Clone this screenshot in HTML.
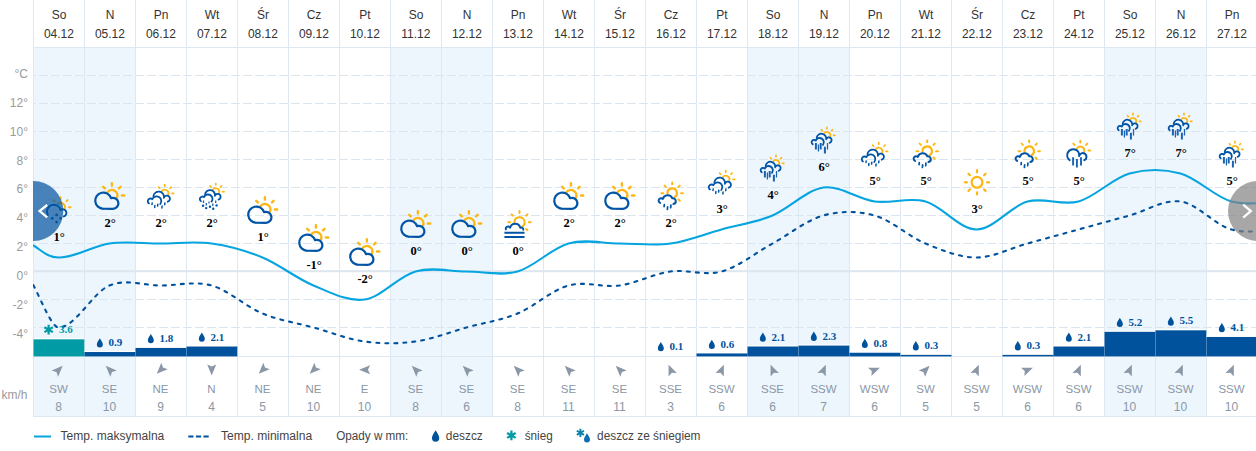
<!DOCTYPE html><html><head><meta charset="utf-8"><title>Pogoda</title>
<style>html,body{margin:0;padding:0;background:#fff;}svg{display:block;font-family:"Liberation Sans",sans-serif;}.h{font-size:12px;fill:#333333;text-anchor:middle;}.a{font-size:12px;fill:#9a9a9a;text-anchor:end;}.w{font-size:12px;fill:#8a97a6;text-anchor:middle;}.t{font-family:"Liberation Serif",serif;font-weight:bold;font-size:12.5px;fill:#000;text-anchor:middle;}.p{font-family:"Liberation Serif",serif;font-weight:bold;font-size:11px;}.l{font-size:12px;fill:#444;}</style></head><body>
<svg width="1256" height="451" viewBox="0 0 1256 451">
<defs><clipPath id="cp"><rect x="33" y="0" width="1223" height="451"/></clipPath>
<path id="ar" d="M0 -5.6 L4.5 5.4 L0 3.2 L-4.5 5.4 Z"/>
<path id="drop" d="M0 -4.6 C1.3 -2.2 3 -0.2 3 1.7 A3 3 0 0 1 -3 1.7 C-3 -0.2 -1.3 -2.2 0 -4.6 Z"/>
<path id="flake" d="M0 -4.6V4.6M-4 -2.3L4 2.3M-4 2.3L4 -2.3" stroke-width="2.1" fill="none" stroke-linecap="butt"/>
</defs>
<rect width="1256" height="451" fill="#fff"/>
<rect x="33" y="48" width="51" height="368" fill="#edf5fd"/>
<rect x="84" y="48" width="51" height="368" fill="#edf5fd"/>
<rect x="390" y="48" width="51" height="368" fill="#edf5fd"/>
<rect x="441" y="48" width="51" height="368" fill="#edf5fd"/>
<rect x="747" y="48" width="51" height="368" fill="#edf5fd"/>
<rect x="798" y="48" width="51" height="368" fill="#edf5fd"/>
<rect x="1104" y="48" width="51" height="368" fill="#edf5fd"/>
<rect x="1155" y="48" width="51" height="368" fill="#edf5fd"/>
<path d="M33 75.5 H1256" stroke="#dbe5ef" stroke-width="1" stroke-dasharray="9 3" stroke-dashoffset="6" fill="none"/><path d="M33 103.5 H1256" stroke="#dbe5ef" stroke-width="1" stroke-dasharray="9 3" stroke-dashoffset="6" fill="none"/><path d="M33 131.5 H1256" stroke="#dbe5ef" stroke-width="1" stroke-dasharray="9 3" stroke-dashoffset="6" fill="none"/><path d="M33 159.5 H1256" stroke="#dbe5ef" stroke-width="1" stroke-dasharray="9 3" stroke-dashoffset="6" fill="none"/><path d="M33 187.5 H1256" stroke="#dbe5ef" stroke-width="1" stroke-dasharray="9 3" stroke-dashoffset="6" fill="none"/><path d="M33 215.5 H1256" stroke="#dbe5ef" stroke-width="1" stroke-dasharray="9 3" stroke-dashoffset="6" fill="none"/><path d="M33 243.5 H1256" stroke="#dbe5ef" stroke-width="1" stroke-dasharray="9 3" stroke-dashoffset="6" fill="none"/><rect x="33" y="270.2" width="1223" height="2" fill="#dde6ef"/><path d="M33 299.5 H1256" stroke="#dbe5ef" stroke-width="1" stroke-dasharray="9 3" stroke-dashoffset="6" fill="none"/><path d="M33 327.5 H1256" stroke="#dbe5ef" stroke-width="1" stroke-dasharray="9 3" stroke-dashoffset="6" fill="none"/>
<path d="M33.5 0V417M84.5 0V417M135.5 0V417M186.5 0V417M237.5 0V417M288.5 0V417M339.5 0V417M390.5 0V417M441.5 0V417M492.5 0V417M543.5 0V417M594.5 0V417M645.5 0V417M696.5 0V417M747.5 0V417M798.5 0V417M849.5 0V417M900.5 0V417M951.5 0V417M1002.5 0V417M1053.5 0V417M1104.5 0V417M1155.5 0V417M1206.5 0V417M1257.5 0V417" stroke="#dee8f2" stroke-width="1" fill="none" shape-rendering="crispEdges"/>
<path d="M33 47.5H1256M33 356.5H1256M33 416.5H1256" stroke="#dee8f2" stroke-width="1" fill="none" shape-rendering="crispEdges"/>
<text class="h" x="59" y="18.9">So</text><text class="h" x="58.9" y="38">04.12</text>
<text class="h" x="110" y="18.9">N</text><text class="h" x="109.9" y="38">05.12</text>
<text class="h" x="161" y="18.9">Pn</text><text class="h" x="160.9" y="38">06.12</text>
<text class="h" x="212" y="18.9">Wt</text><text class="h" x="211.9" y="38">07.12</text>
<text class="h" x="263" y="18.9">Śr</text><text class="h" x="262.9" y="38">08.12</text>
<text class="h" x="314" y="18.9">Cz</text><text class="h" x="313.9" y="38">09.12</text>
<text class="h" x="365" y="18.9">Pt</text><text class="h" x="364.9" y="38">10.12</text>
<text class="h" x="416" y="18.9">So</text><text class="h" x="415.9" y="38">11.12</text>
<text class="h" x="467" y="18.9">N</text><text class="h" x="466.9" y="38">12.12</text>
<text class="h" x="518" y="18.9">Pn</text><text class="h" x="517.9" y="38">13.12</text>
<text class="h" x="569" y="18.9">Wt</text><text class="h" x="568.9" y="38">14.12</text>
<text class="h" x="620" y="18.9">Śr</text><text class="h" x="619.9" y="38">15.12</text>
<text class="h" x="671" y="18.9">Cz</text><text class="h" x="670.9" y="38">16.12</text>
<text class="h" x="722" y="18.9">Pt</text><text class="h" x="721.9" y="38">17.12</text>
<text class="h" x="773" y="18.9">So</text><text class="h" x="772.9" y="38">18.12</text>
<text class="h" x="824" y="18.9">N</text><text class="h" x="823.9" y="38">19.12</text>
<text class="h" x="875" y="18.9">Pn</text><text class="h" x="874.9" y="38">20.12</text>
<text class="h" x="926" y="18.9">Wt</text><text class="h" x="925.9" y="38">21.12</text>
<text class="h" x="977" y="18.9">Śr</text><text class="h" x="976.9" y="38">22.12</text>
<text class="h" x="1028" y="18.9">Cz</text><text class="h" x="1027.9" y="38">23.12</text>
<text class="h" x="1079" y="18.9">Pt</text><text class="h" x="1078.9" y="38">24.12</text>
<text class="h" x="1130" y="18.9">So</text><text class="h" x="1129.9" y="38">25.12</text>
<text class="h" x="1181" y="18.9">N</text><text class="h" x="1180.9" y="38">26.12</text>
<text class="h" x="1232" y="18.9">Pn</text><text class="h" x="1231.9" y="38">27.12</text>
<text class="a" x="28" y="78.1">°C</text>
<text class="a" x="28" y="106.9">12°</text>
<text class="a" x="28" y="135.7">10°</text>
<text class="a" x="28" y="164.5">8°</text>
<text class="a" x="28" y="193.3">6°</text>
<text class="a" x="28" y="222.1">4°</text>
<text class="a" x="28" y="250.9">2°</text>
<text class="a" x="28" y="279.7">0°</text>
<text class="a" x="28" y="308.5">-2°</text>
<text class="a" x="28" y="338.3">-4°</text>
<text class="a" x="27.5" y="398.5">km/h</text>
<rect x="33.5" y="339.2" width="51" height="17.2" fill="#009ba5"/>
<path d="M33.5 338.7H84.5" stroke="#fff" stroke-width="1"/>
<path d="M84.5 339.2V356" stroke="#fff" stroke-width="1" stroke-opacity="0.3"/>
<rect x="84.5" y="352.02" width="51" height="4.38" fill="#00529c"/>
<path d="M84.5 351.52H135.5" stroke="#fff" stroke-width="1"/>
<path d="M135.5 352.02V356" stroke="#fff" stroke-width="1" stroke-opacity="0.3"/>
<rect x="135.5" y="347.75" width="51" height="8.65" fill="#00529c"/>
<path d="M135.5 347.25H186.5" stroke="#fff" stroke-width="1"/>
<path d="M186.5 347.75V356" stroke="#fff" stroke-width="1" stroke-opacity="0.3"/>
<rect x="186.5" y="346.32" width="51" height="10.07" fill="#00529c"/>
<path d="M186.5 345.82H237.5" stroke="#fff" stroke-width="1"/>
<path d="M237.5 346.32V356" stroke="#fff" stroke-width="1" stroke-opacity="0.3"/>
<rect x="696.5" y="353.45" width="51" height="2.95" fill="#00529c"/>
<rect x="747.5" y="346.32" width="51" height="10.07" fill="#00529c"/>
<path d="M747.5 345.82H798.5" stroke="#fff" stroke-width="1"/>
<path d="M798.5 346.32V356" stroke="#fff" stroke-width="1" stroke-opacity="0.3"/>
<rect x="798.5" y="345.38" width="51" height="11.02" fill="#00529c"/>
<path d="M798.5 344.88H849.5" stroke="#fff" stroke-width="1"/>
<path d="M849.5 345.38V356" stroke="#fff" stroke-width="1" stroke-opacity="0.3"/>
<rect x="849.5" y="352.5" width="51" height="3.9" fill="#00529c"/>
<path d="M849.5 352H900.5" stroke="#fff" stroke-width="1"/>
<path d="M900.5 352.5V356" stroke="#fff" stroke-width="1" stroke-opacity="0.3"/>
<rect x="900.5" y="354.88" width="51" height="1.52" fill="#00529c"/>
<rect x="1002.5" y="354.88" width="51" height="1.52" fill="#00529c"/>
<rect x="1053.5" y="346.32" width="51" height="10.07" fill="#00529c"/>
<path d="M1053.5 345.82H1104.5" stroke="#fff" stroke-width="1"/>
<path d="M1104.5 346.32V356" stroke="#fff" stroke-width="1" stroke-opacity="0.3"/>
<rect x="1104.5" y="331.6" width="51" height="24.8" fill="#00529c"/>
<path d="M1104.5 331.1H1155.5" stroke="#fff" stroke-width="1"/>
<path d="M1155.5 331.6V356" stroke="#fff" stroke-width="1" stroke-opacity="0.3"/>
<rect x="1155.5" y="330.18" width="51" height="26.22" fill="#00529c"/>
<path d="M1155.5 329.68H1206.5" stroke="#fff" stroke-width="1"/>
<path d="M1206.5 330.18V356" stroke="#fff" stroke-width="1" stroke-opacity="0.3"/>
<rect x="1206.5" y="336.82" width="51" height="19.57" fill="#00529c"/>
<path d="M1206.5 336.32H1257.5" stroke="#fff" stroke-width="1"/>
<path d="M1257.5 336.82V356" stroke="#fff" stroke-width="1" stroke-opacity="0.3"/>
<g clip-path="url(#cp)">
<path d="M33 245.2 C41.5 250.1 46.5 257.2 58.5 257.5 C75.5 257.93 92.5 245.83 109.5 243.5 C126.5 241.17 143.5 243.5 160.5 243.5 C177.5 243.5 194.5 241.17 211.5 243.5 C228.5 245.83 245.5 250.5 262.5 257.5 C279.5 264.5 296.5 278.5 313.5 285.5 C330.5 292.5 347.5 301.83 364.5 299.5 C381.5 297.17 398.5 276.17 415.5 271.5 C432.5 266.83 449.5 271.5 466.5 271.5 C483.5 271.5 500.5 276.17 517.5 271.5 C534.5 266.83 551.5 248.17 568.5 243.5 C585.5 238.83 602.5 243.5 619.5 243.5 C636.5 243.5 653.5 245.83 670.5 243.5 C687.5 241.17 704.5 234.17 721.5 229.5 C738.5 224.83 755.5 222.5 772.5 215.5 C789.5 208.5 806.5 189.83 823.5 187.5 C840.5 185.17 857.5 199.17 874.5 201.5 C891.5 203.83 908.5 196.83 925.5 201.5 C942.5 206.17 959.5 229.5 976.5 229.5 C993.5 229.5 1010.5 206.17 1027.5 201.5 C1044.5 196.83 1061.5 206.17 1078.5 201.5 C1095.5 196.83 1112.5 178.17 1129.5 173.5 C1146.5 168.83 1163.5 168.83 1180.5 173.5 C1197.5 178.17 1214.5 196.83 1231.5 201.5 C1248.5 206.17 1265.5 201.5 1282.5 201.5 C1299.5 201.5 1325 201.5 1333.5 201.5" stroke="#06a5e0" stroke-width="2.1" fill="none" stroke-linejoin="round"/>
<path d="M33 284.3 C41.5 300.9 52 327.5 58.5 327.5 C75.5 327.5 92.5 292.5 109.5 285.5 C126.5 278.5 143.5 285.5 160.5 285.5 C177.5 285.5 194.5 280.83 211.5 285.5 C228.5 290.17 245.5 306.5 262.5 313.5 C279.5 320.5 296.5 322.83 313.5 327.5 C330.5 332.17 347.5 339.17 364.5 341.5 C381.5 343.83 398.5 343.83 415.5 341.5 C432.5 339.17 449.5 332.17 466.5 327.5 C483.5 322.83 500.5 320.5 517.5 313.5 C534.5 306.5 551.5 290.17 568.5 285.5 C585.5 280.83 602.5 287.83 619.5 285.5 C636.5 283.17 653.5 273.83 670.5 271.5 C687.5 269.17 704.5 276.17 721.5 271.5 C738.5 266.83 755.5 252.83 772.5 243.5 C789.5 234.17 806.5 220.17 823.5 215.5 C840.5 210.83 857.5 210.83 874.5 215.5 C891.5 220.17 908.5 236.5 925.5 243.5 C942.5 250.5 959.5 257.5 976.5 257.5 C993.5 257.5 1010.5 248.17 1027.5 243.5 C1044.5 238.83 1061.5 234.17 1078.5 229.5 C1095.5 224.83 1112.5 220.17 1129.5 215.5 C1146.5 210.83 1163.5 199.17 1180.5 201.5 C1197.5 203.83 1214.5 224.83 1231.5 229.5 C1248.5 234.17 1265.5 229.5 1282.5 229.5 C1299.5 229.5 1325 229.5 1333.5 229.5" stroke="#00529c" stroke-width="2.1" fill="none" stroke-linecap="round" stroke-dasharray="3 6" stroke-dashoffset="-1"/>
</g>
<use href="#flake" transform="translate(48.63 329.7) scale(1.06)" stroke="#009ba5"/>
<text class="p" x="58.93" y="333.4" fill="#009ba5">3.6</text>
<use href="#drop" x="99.83" y="342.82" fill="#00529c"/>
<text class="p" x="108.42" y="346.22" fill="#00529c">0.9</text>
<use href="#drop" x="150.82" y="338.55" fill="#00529c"/>
<text class="p" x="159.42" y="341.95" fill="#00529c">1.8</text>
<use href="#drop" x="201.82" y="337.12" fill="#00529c"/>
<text class="p" x="210.42" y="340.52" fill="#00529c">2.1</text>
<use href="#drop" x="660.83" y="346.62" fill="#00529c"/>
<text class="p" x="669.43" y="350.02" fill="#00529c">0.1</text>
<use href="#drop" x="711.83" y="344.25" fill="#00529c"/>
<text class="p" x="720.43" y="347.65" fill="#00529c">0.6</text>
<use href="#drop" x="762.83" y="337.12" fill="#00529c"/>
<text class="p" x="771.43" y="340.52" fill="#00529c">2.1</text>
<use href="#drop" x="813.83" y="336.18" fill="#00529c"/>
<text class="p" x="822.43" y="339.57" fill="#00529c">2.3</text>
<use href="#drop" x="864.83" y="343.3" fill="#00529c"/>
<text class="p" x="873.43" y="346.7" fill="#00529c">0.8</text>
<use href="#drop" x="915.83" y="345.68" fill="#00529c"/>
<text class="p" x="924.43" y="349.07" fill="#00529c">0.3</text>
<use href="#drop" x="1017.83" y="345.68" fill="#00529c"/>
<text class="p" x="1026.42" y="349.07" fill="#00529c">0.3</text>
<use href="#drop" x="1068.83" y="337.12" fill="#00529c"/>
<text class="p" x="1077.42" y="340.52" fill="#00529c">2.1</text>
<use href="#drop" x="1119.83" y="322.4" fill="#00529c"/>
<text class="p" x="1128.42" y="325.8" fill="#00529c">5.2</text>
<use href="#drop" x="1170.83" y="320.98" fill="#00529c"/>
<text class="p" x="1179.42" y="324.38" fill="#00529c">5.5</text>
<use href="#drop" x="1221.83" y="327.62" fill="#00529c"/>
<text class="p" x="1230.42" y="331.02" fill="#00529c">4.1</text>
<g transform="translate(58.5 257.5)"><path d="M-4.01 -56.31 L-5.14 -57.44M2 -58.8 L2 -60.4M8.01 -56.31 L9.14 -57.44M10.5 -50.3 L12.1 -50.3" stroke="#fdb713" stroke-width="1.9" stroke-linecap="round" fill="none"/><path d="M-0.52 -53.9 A4.4 4.4 0 0 1 5.99 -48.44" stroke="#fdb713" stroke-width="1.9" fill="none" stroke-linecap="round"/><path d="M-10.68 -42.45 A6.9 6.9 0 1 1 2.04 -47.4 A3.6 3.6 0 1 1 5.23 -41.12" stroke="#0054a6" stroke-width="1.9" fill="none" stroke-linecap="round" stroke-linejoin="round"/><circle cx="-1.9" cy="-42.6" r="1.35" fill="#0054a6"/><circle cx="-6.3" cy="-39.2" r="1.35" fill="#0054a6"/><circle cx="2" cy="-39.2" r="1.35" fill="#0054a6"/><circle cx="-1.9" cy="-35.4" r="1.35" fill="#0054a6"/></g>
<text class="t" x="59.1" y="240.7">1°</text>
<g transform="translate(109.5 243.5)"><path d="M-4.67 -55.07 L-6.3 -56.7M2.4 -58 L2.4 -60.3M9.47 -55.07 L11.1 -56.7M12.4 -48 L14.7 -48" stroke="#fdb713" stroke-width="2.4" stroke-linecap="round" fill="none"/><path d="M-1.93 -51.39 A5.5 5.5 0 0 1 7.5 -45.94" stroke="#fdb713" stroke-width="2.4" fill="none" stroke-linecap="round"/><path d="M-6.15 -34.75 A8.1 8.1 0 1 1 1.55 -45.38 A5.5 5.5 0 1 1 3.4 -34.7 Z" stroke="#0054a6" stroke-width="2.25" fill="none" stroke-linecap="round" stroke-linejoin="round"/></g>
<text class="t" x="110.1" y="226.7">2°</text>
<g transform="translate(160.5 243.5)"><path d="M-0.86 -55.26 L-1.92 -56.32M4.3 -57.4 L4.3 -58.9M9.46 -55.26 L10.52 -56.32M11.6 -50.1 L13.1 -50.1" stroke="#fdb713" stroke-width="1.7" stroke-linecap="round" fill="none"/><path d="M1.1 -51.95 A3.7 3.7 0 0 1 7.87 -49.14" stroke="#fdb713" stroke-width="1.8" fill="none" stroke-linecap="round"/><path d="M-7.1 -47.38 A5.3 5.3 0 1 1 3.42 -45.71 A3.1 3.1 0 1 1 7.24 -41.77" stroke="#0054a6" stroke-width="1.8" fill="none" stroke-linecap="round" stroke-linejoin="round"/><path d="M-11.55 -40.09 A2.7 2.7 0 1 1 -8.2 -44.31 A4.7 4.7 0 1 1 -0.2 -39.51" stroke="#0054a6" stroke-width="1.8" fill="none" stroke-linecap="round" stroke-linejoin="round"/><path d="M-8.3 -40.6L-8.5 -39M-5.6 -37.9L-5.8 -36.1M-2.7 -39.3L-2.9 -37.4M1.6 -37.5L1.4 -35.5M4.4 -40.6L4.2 -38.8" stroke="#0054a6" stroke-width="1.5" fill="none" stroke-linecap="round"/></g>
<text class="t" x="161.1" y="226.7">2°</text>
<g transform="translate(211.5 243.5)"><path d="M-0.59 -56.67 L-1.54 -57.61M4.28 -58.69 L4.28 -60.02M9.16 -56.67 L10.1 -57.61M11.17 -51.79 L12.51 -51.79" stroke="#fdb713" stroke-width="1.7" stroke-linecap="round" fill="none"/><path d="M1.27 -53.53 A3.48 3.48 0 0 1 7.64 -50.89" stroke="#fdb713" stroke-width="1.8" fill="none" stroke-linecap="round"/><path d="M-6.43 -49.24 A4.98 4.98 0 1 1 3.45 -47.67 A2.91 2.91 0 1 1 7.05 -43.96" stroke="#0054a6" stroke-width="1.8" fill="none" stroke-linecap="round" stroke-linejoin="round"/><path d="M-10.62 -42.38 A2.54 2.54 0 1 1 -7.46 -46.35 A4.42 4.42 0 1 1 0.06 -41.84" stroke="#0054a6" stroke-width="1.8" fill="none" stroke-linecap="round" stroke-linejoin="round"/><path d="M-8 -43L-8 -40.4M-5.2 -40.4L-5.2 -37.9M-2.5 -42.1L-2.5 -39.9M1.3 -40L1.3 -37.5M4.2 -43L4.2 -40.4" stroke="#1a62b2" stroke-width="1.3" fill="none" stroke-linecap="butt"/><circle cx="-8.4" cy="-37.8" r="1.2" fill="#0054a6"/><circle cx="-5.3" cy="-35.4" r="1.2" fill="#0054a6"/><circle cx="-1.5" cy="-36.8" r="1.2" fill="#0054a6"/><circle cx="1.7" cy="-34.7" r="1.2" fill="#0054a6"/><circle cx="5.1" cy="-38.1" r="1.2" fill="#0054a6"/></g>
<text class="t" x="212.1" y="226.7">2°</text>
<g transform="translate(262.5 257.5)"><path d="M-4.67 -55.07 L-6.3 -56.7M2.4 -58 L2.4 -60.3M9.47 -55.07 L11.1 -56.7M12.4 -48 L14.7 -48" stroke="#fdb713" stroke-width="2.4" stroke-linecap="round" fill="none"/><path d="M-1.93 -51.39 A5.5 5.5 0 0 1 7.5 -45.94" stroke="#fdb713" stroke-width="2.4" fill="none" stroke-linecap="round"/><path d="M-6.15 -34.75 A8.1 8.1 0 1 1 1.55 -45.38 A5.5 5.5 0 1 1 3.4 -34.7 Z" stroke="#0054a6" stroke-width="2.25" fill="none" stroke-linecap="round" stroke-linejoin="round"/></g>
<text class="t" x="263.1" y="240.7">1°</text>
<g transform="translate(313.5 285.5)"><path d="M-4.67 -55.07 L-6.3 -56.7M2.4 -58 L2.4 -60.3M9.47 -55.07 L11.1 -56.7M12.4 -48 L14.7 -48" stroke="#fdb713" stroke-width="2.4" stroke-linecap="round" fill="none"/><path d="M-1.93 -51.39 A5.5 5.5 0 0 1 7.5 -45.94" stroke="#fdb713" stroke-width="2.4" fill="none" stroke-linecap="round"/><path d="M-6.15 -34.75 A8.1 8.1 0 1 1 1.55 -45.38 A5.5 5.5 0 1 1 3.4 -34.7 Z" stroke="#0054a6" stroke-width="2.25" fill="none" stroke-linecap="round" stroke-linejoin="round"/></g>
<text class="t" x="314.1" y="268.7">-1°</text>
<g transform="translate(364.5 299.5)"><path d="M-4.67 -55.07 L-6.3 -56.7M2.4 -58 L2.4 -60.3M9.47 -55.07 L11.1 -56.7M12.4 -48 L14.7 -48" stroke="#fdb713" stroke-width="2.4" stroke-linecap="round" fill="none"/><path d="M-1.93 -51.39 A5.5 5.5 0 0 1 7.5 -45.94" stroke="#fdb713" stroke-width="2.4" fill="none" stroke-linecap="round"/><path d="M-6.15 -34.75 A8.1 8.1 0 1 1 1.55 -45.38 A5.5 5.5 0 1 1 3.4 -34.7 Z" stroke="#0054a6" stroke-width="2.25" fill="none" stroke-linecap="round" stroke-linejoin="round"/></g>
<text class="t" x="365.1" y="282.7">-2°</text>
<g transform="translate(415.5 271.5)"><path d="M-4.67 -55.07 L-6.3 -56.7M2.4 -58 L2.4 -60.3M9.47 -55.07 L11.1 -56.7M12.4 -48 L14.7 -48" stroke="#fdb713" stroke-width="2.4" stroke-linecap="round" fill="none"/><path d="M-1.93 -51.39 A5.5 5.5 0 0 1 7.5 -45.94" stroke="#fdb713" stroke-width="2.4" fill="none" stroke-linecap="round"/><path d="M-6.15 -34.75 A8.1 8.1 0 1 1 1.55 -45.38 A5.5 5.5 0 1 1 3.4 -34.7 Z" stroke="#0054a6" stroke-width="2.25" fill="none" stroke-linecap="round" stroke-linejoin="round"/></g>
<text class="t" x="416.1" y="254.7">0°</text>
<g transform="translate(466.5 271.5)"><path d="M-4.67 -55.07 L-6.3 -56.7M2.4 -58 L2.4 -60.3M9.47 -55.07 L11.1 -56.7M12.4 -48 L14.7 -48" stroke="#fdb713" stroke-width="2.4" stroke-linecap="round" fill="none"/><path d="M-1.93 -51.39 A5.5 5.5 0 0 1 7.5 -45.94" stroke="#fdb713" stroke-width="2.4" fill="none" stroke-linecap="round"/><path d="M-6.15 -34.75 A8.1 8.1 0 1 1 1.55 -45.38 A5.5 5.5 0 1 1 3.4 -34.7 Z" stroke="#0054a6" stroke-width="2.25" fill="none" stroke-linecap="round" stroke-linejoin="round"/></g>
<text class="t" x="467.1" y="254.7">0°</text>
<g transform="translate(517.5 271.5)"><path d="M-7.4 -49.2 L-9.2 -49.2M-4.65 -55.85 L-5.92 -57.12M2 -58.6 L2 -60.4M8.65 -55.85 L9.92 -57.12M11.4 -49.2 L13.2 -49.2M8.65 -42.55 L9.92 -41.28" stroke="#fdb713" stroke-width="2" stroke-linecap="round" fill="none"/><path d="M-3.1 -49.38 A5.1 5.1 0 1 1 4.39 -44.7" stroke="#fdb713" stroke-width="2" fill="none" stroke-linecap="round"/><path d="M-11.62 -42.1 A2.3 2.3 0 0 1 -7.35 -43.74 A5.2 5.2 0 0 1 2.78 -43.62 A2 2 0 0 1 5.79 -41.73" stroke="#0054a6" stroke-width="1.9" fill="none" stroke-linecap="round" stroke-linejoin="round"/><path d="M-13.1 -38.7L7 -38.7M-13.1 -34.5L7 -34.5" stroke="#0054a6" stroke-width="1.9" fill="none" stroke-linecap="butt"/></g>
<text class="t" x="518.1" y="254.7">0°</text>
<g transform="translate(568.5 243.5)"><path d="M-4.67 -55.07 L-6.3 -56.7M2.4 -58 L2.4 -60.3M9.47 -55.07 L11.1 -56.7M12.4 -48 L14.7 -48" stroke="#fdb713" stroke-width="2.4" stroke-linecap="round" fill="none"/><path d="M-1.93 -51.39 A5.5 5.5 0 0 1 7.5 -45.94" stroke="#fdb713" stroke-width="2.4" fill="none" stroke-linecap="round"/><path d="M-6.15 -34.75 A8.1 8.1 0 1 1 1.55 -45.38 A5.5 5.5 0 1 1 3.4 -34.7 Z" stroke="#0054a6" stroke-width="2.25" fill="none" stroke-linecap="round" stroke-linejoin="round"/></g>
<text class="t" x="569.1" y="226.7">2°</text>
<g transform="translate(619.5 243.5)"><path d="M-4.67 -55.07 L-6.3 -56.7M2.4 -58 L2.4 -60.3M9.47 -55.07 L11.1 -56.7M12.4 -48 L14.7 -48" stroke="#fdb713" stroke-width="2.4" stroke-linecap="round" fill="none"/><path d="M-1.93 -51.39 A5.5 5.5 0 0 1 7.5 -45.94" stroke="#fdb713" stroke-width="2.4" fill="none" stroke-linecap="round"/><path d="M-6.15 -34.75 A8.1 8.1 0 1 1 1.55 -45.38 A5.5 5.5 0 1 1 3.4 -34.7 Z" stroke="#0054a6" stroke-width="2.25" fill="none" stroke-linecap="round" stroke-linejoin="round"/></g>
<text class="t" x="620.1" y="226.7">2°</text>
<g transform="translate(670.5 243.5)"><path d="M-7.2 -50.3 L-9 -50.3M-4.59 -56.59 L-5.87 -57.87M1.7 -59.2 L1.7 -61M7.99 -56.59 L9.27 -57.87M10.6 -50.3 L12.4 -50.3M7.99 -44.01 L9.27 -42.73" stroke="#fdb713" stroke-width="2" stroke-linecap="round" fill="none"/><path d="M-2.98 -49.89 A4.7 4.7 0 1 1 4.05 -46.23" stroke="#fdb713" stroke-width="2.2" fill="none" stroke-linecap="round"/><path d="M-10.46 -40.53 A2.5 2.5 0 1 1 -7.65 -44.59 A5.05 5.05 0 0 1 1.82 -45.24 A2.9 2.9 0 1 1 2.9 -39.54" stroke="#0054a6" stroke-width="2" fill="none" stroke-linecap="round" stroke-linejoin="round"/><path d="M-6.2 -38.9L-6.4 -36.9M-2.9 -36.6L-3.1 -34M0.4 -38.4L0.2 -35.8" stroke="#0054a6" stroke-width="1.7" fill="none" stroke-linecap="round"/></g>
<text class="t" x="671.1" y="226.7">2°</text>
<g transform="translate(721.5 229.5)"><path d="M-0.86 -55.26 L-1.92 -56.32M4.3 -57.4 L4.3 -58.9M9.46 -55.26 L10.52 -56.32M11.6 -50.1 L13.1 -50.1" stroke="#fdb713" stroke-width="1.7" stroke-linecap="round" fill="none"/><path d="M1.1 -51.95 A3.7 3.7 0 0 1 7.87 -49.14" stroke="#fdb713" stroke-width="1.8" fill="none" stroke-linecap="round"/><path d="M-7.1 -47.38 A5.3 5.3 0 1 1 3.42 -45.71 A3.1 3.1 0 1 1 7.24 -41.77" stroke="#0054a6" stroke-width="1.8" fill="none" stroke-linecap="round" stroke-linejoin="round"/><path d="M-11.55 -40.09 A2.7 2.7 0 1 1 -8.2 -44.31 A4.7 4.7 0 1 1 -0.2 -39.51" stroke="#0054a6" stroke-width="1.8" fill="none" stroke-linecap="round" stroke-linejoin="round"/><path d="M-8.3 -40.6L-8.5 -39M-5.6 -37.9L-5.8 -36.1M-2.7 -39.3L-2.9 -37.4M1.6 -37.5L1.4 -35.5M4.4 -40.6L4.2 -38.8" stroke="#0054a6" stroke-width="1.5" fill="none" stroke-linecap="round"/></g>
<text class="t" x="722.1" y="212.7">3°</text>
<g transform="translate(772.5 215.5)"><path d="M-1.21 -56.87 L-2.08 -57.74M3.47 -58.81 L3.47 -60.04M8.15 -56.87 L9.02 -57.74M10.09 -52.19 L11.32 -52.19" stroke="#fdb713" stroke-width="1.7" stroke-linecap="round" fill="none"/><path d="M0.59 -53.86 A3.33 3.33 0 0 1 6.69 -51.33" stroke="#fdb713" stroke-width="1.8" fill="none" stroke-linecap="round"/><path d="M-6.79 -49.75 A4.77 4.77 0 1 1 2.68 -48.24 A2.79 2.79 0 1 1 6.12 -44.69" stroke="#0054a6" stroke-width="1.8" fill="none" stroke-linecap="round" stroke-linejoin="round"/><path d="M-10.79 -43.18 A2.43 2.43 0 1 1 -7.78 -46.98 A4.23 4.23 0 1 1 -0.58 -42.66" stroke="#0054a6" stroke-width="1.8" fill="none" stroke-linecap="round" stroke-linejoin="round"/><path d="M-7.6 -44.6L-7.6 -38M-2.8 -44.6L-2.8 -38M1.4 -40.7L1.4 -33.9" stroke="#1a62b2" stroke-width="2" fill="none" stroke-linecap="butt"/><path d="M-5.1 -43L-5.1 -36.1M4 -44.6L4 -38" stroke="#1a62b2" stroke-width="1.25" fill="none" stroke-linecap="butt"/></g>
<text class="t" x="773.1" y="198.7">4°</text>
<g transform="translate(823.5 187.5)"><path d="M-1.21 -56.87 L-2.08 -57.74M3.47 -58.81 L3.47 -60.04M8.15 -56.87 L9.02 -57.74M10.09 -52.19 L11.32 -52.19" stroke="#fdb713" stroke-width="1.7" stroke-linecap="round" fill="none"/><path d="M0.59 -53.86 A3.33 3.33 0 0 1 6.69 -51.33" stroke="#fdb713" stroke-width="1.8" fill="none" stroke-linecap="round"/><path d="M-6.79 -49.75 A4.77 4.77 0 1 1 2.68 -48.24 A2.79 2.79 0 1 1 6.12 -44.69" stroke="#0054a6" stroke-width="1.8" fill="none" stroke-linecap="round" stroke-linejoin="round"/><path d="M-10.79 -43.18 A2.43 2.43 0 1 1 -7.78 -46.98 A4.23 4.23 0 1 1 -0.58 -42.66" stroke="#0054a6" stroke-width="1.8" fill="none" stroke-linecap="round" stroke-linejoin="round"/><path d="M-7.6 -44.6L-7.6 -38M-2.8 -44.6L-2.8 -38M1.4 -40.7L1.4 -33.9" stroke="#1a62b2" stroke-width="2" fill="none" stroke-linecap="butt"/><path d="M-5.1 -43L-5.1 -36.1M4 -44.6L4 -38" stroke="#1a62b2" stroke-width="1.25" fill="none" stroke-linecap="butt"/></g>
<text class="t" x="824.1" y="170.7">6°</text>
<g transform="translate(874.5 201.5)"><path d="M-0.86 -55.26 L-1.92 -56.32M4.3 -57.4 L4.3 -58.9M9.46 -55.26 L10.52 -56.32M11.6 -50.1 L13.1 -50.1" stroke="#fdb713" stroke-width="1.7" stroke-linecap="round" fill="none"/><path d="M1.1 -51.95 A3.7 3.7 0 0 1 7.87 -49.14" stroke="#fdb713" stroke-width="1.8" fill="none" stroke-linecap="round"/><path d="M-7.1 -47.38 A5.3 5.3 0 1 1 3.42 -45.71 A3.1 3.1 0 1 1 7.24 -41.77" stroke="#0054a6" stroke-width="1.8" fill="none" stroke-linecap="round" stroke-linejoin="round"/><path d="M-11.55 -40.09 A2.7 2.7 0 1 1 -8.2 -44.31 A4.7 4.7 0 1 1 -0.2 -39.51" stroke="#0054a6" stroke-width="1.8" fill="none" stroke-linecap="round" stroke-linejoin="round"/><path d="M-8.3 -40.6L-8.5 -39M-5.6 -37.9L-5.8 -36.1M-2.7 -39.3L-2.9 -37.4M1.6 -37.5L1.4 -35.5M4.4 -40.6L4.2 -38.8" stroke="#0054a6" stroke-width="1.5" fill="none" stroke-linecap="round"/></g>
<text class="t" x="875.1" y="184.7">5°</text>
<g transform="translate(925.5 201.5)"><path d="M-7.2 -50.3 L-9 -50.3M-4.59 -56.59 L-5.87 -57.87M1.7 -59.2 L1.7 -61M7.99 -56.59 L9.27 -57.87M10.6 -50.3 L12.4 -50.3M7.99 -44.01 L9.27 -42.73" stroke="#fdb713" stroke-width="2" stroke-linecap="round" fill="none"/><path d="M-2.98 -49.89 A4.7 4.7 0 1 1 4.05 -46.23" stroke="#fdb713" stroke-width="2.2" fill="none" stroke-linecap="round"/><path d="M-10.46 -40.53 A2.5 2.5 0 1 1 -7.65 -44.59 A5.05 5.05 0 0 1 1.82 -45.24 A2.9 2.9 0 1 1 2.9 -39.54" stroke="#0054a6" stroke-width="2" fill="none" stroke-linecap="round" stroke-linejoin="round"/><path d="M-6.2 -38.9L-6.4 -36.9M-2.9 -36.6L-3.1 -34M0.4 -38.4L0.2 -35.8" stroke="#0054a6" stroke-width="1.7" fill="none" stroke-linecap="round"/></g>
<text class="t" x="926.1" y="184.7">5°</text>
<g transform="translate(976.5 229.5)"><path d="M10.5 -47.2 L12.6 -47.2M7.57 -40.13 L9.06 -38.64M0.5 -37.2 L0.5 -35.1M-6.57 -40.13 L-8.06 -38.64M-9.5 -47.2 L-11.6 -47.2M-6.57 -54.27 L-8.06 -55.76M0.5 -57.2 L0.5 -59.3M7.57 -54.27 L9.06 -55.76" stroke="#fdb713" stroke-width="2.2" stroke-linecap="round" fill="none"/><circle cx="0.5" cy="-47.2" r="5.4" fill="none" stroke="#fdb713" stroke-width="2.2"/></g>
<text class="t" x="977.1" y="212.7">3°</text>
<g transform="translate(1027.5 201.5)"><path d="M-7.2 -50.3 L-9 -50.3M-4.59 -56.59 L-5.87 -57.87M1.7 -59.2 L1.7 -61M7.99 -56.59 L9.27 -57.87M10.6 -50.3 L12.4 -50.3M7.99 -44.01 L9.27 -42.73" stroke="#fdb713" stroke-width="2" stroke-linecap="round" fill="none"/><path d="M-2.98 -49.89 A4.7 4.7 0 1 1 4.05 -46.23" stroke="#fdb713" stroke-width="2.2" fill="none" stroke-linecap="round"/><path d="M-10.46 -40.53 A2.5 2.5 0 1 1 -7.65 -44.59 A5.05 5.05 0 0 1 1.82 -45.24 A2.9 2.9 0 1 1 2.9 -39.54" stroke="#0054a6" stroke-width="2" fill="none" stroke-linecap="round" stroke-linejoin="round"/><path d="M-6.2 -38.9L-6.4 -36.9M-2.9 -36.6L-3.1 -34M0.4 -38.4L0.2 -35.8" stroke="#0054a6" stroke-width="1.7" fill="none" stroke-linecap="round"/></g>
<text class="t" x="1028.1" y="184.7">5°</text>
<g transform="translate(1078.5 201.5)"><path d="M-3.93 -56.63 L-5.2 -57.9M1.8 -59 L1.8 -60.8M7.53 -56.63 L8.8 -57.9M9.9 -50.9 L11.7 -50.9" stroke="#fdb713" stroke-width="2" stroke-linecap="round" fill="none"/><path d="M-1.66 -52.9 A4 4 0 0 1 5.63 -49.73" stroke="#fdb713" stroke-width="2" fill="none" stroke-linecap="round"/><path d="M-8.84 -41.39 A6 6 0 1 1 0.65 -45.38 A3.7 3.7 0 1 1 5.77 -41.32" stroke="#0054a6" stroke-width="2" fill="none" stroke-linecap="round" stroke-linejoin="round"/><path d="M-5.4 -44.2L-5.4 -36.1M-1.6 -42.5L-1.6 -34M2.5 -44.2L2.5 -36.1" stroke="#1a62b2" stroke-width="1.9" fill="none" stroke-linecap="butt"/></g>
<text class="t" x="1079.1" y="184.7">5°</text>
<g transform="translate(1129.5 173.5)"><path d="M-1.21 -56.87 L-2.08 -57.74M3.47 -58.81 L3.47 -60.04M8.15 -56.87 L9.02 -57.74M10.09 -52.19 L11.32 -52.19" stroke="#fdb713" stroke-width="1.7" stroke-linecap="round" fill="none"/><path d="M0.59 -53.86 A3.33 3.33 0 0 1 6.69 -51.33" stroke="#fdb713" stroke-width="1.8" fill="none" stroke-linecap="round"/><path d="M-6.79 -49.75 A4.77 4.77 0 1 1 2.68 -48.24 A2.79 2.79 0 1 1 6.12 -44.69" stroke="#0054a6" stroke-width="1.8" fill="none" stroke-linecap="round" stroke-linejoin="round"/><path d="M-10.79 -43.18 A2.43 2.43 0 1 1 -7.78 -46.98 A4.23 4.23 0 1 1 -0.58 -42.66" stroke="#0054a6" stroke-width="1.8" fill="none" stroke-linecap="round" stroke-linejoin="round"/><path d="M-7.6 -44.6L-7.6 -38M-2.8 -44.6L-2.8 -38M1.4 -40.7L1.4 -33.9" stroke="#1a62b2" stroke-width="2" fill="none" stroke-linecap="butt"/><path d="M-5.1 -43L-5.1 -36.1M4 -44.6L4 -38" stroke="#1a62b2" stroke-width="1.25" fill="none" stroke-linecap="butt"/></g>
<text class="t" x="1130.1" y="156.7">7°</text>
<g transform="translate(1180.5 173.5)"><path d="M-1.21 -56.87 L-2.08 -57.74M3.47 -58.81 L3.47 -60.04M8.15 -56.87 L9.02 -57.74M10.09 -52.19 L11.32 -52.19" stroke="#fdb713" stroke-width="1.7" stroke-linecap="round" fill="none"/><path d="M0.59 -53.86 A3.33 3.33 0 0 1 6.69 -51.33" stroke="#fdb713" stroke-width="1.8" fill="none" stroke-linecap="round"/><path d="M-6.79 -49.75 A4.77 4.77 0 1 1 2.68 -48.24 A2.79 2.79 0 1 1 6.12 -44.69" stroke="#0054a6" stroke-width="1.8" fill="none" stroke-linecap="round" stroke-linejoin="round"/><path d="M-10.79 -43.18 A2.43 2.43 0 1 1 -7.78 -46.98 A4.23 4.23 0 1 1 -0.58 -42.66" stroke="#0054a6" stroke-width="1.8" fill="none" stroke-linecap="round" stroke-linejoin="round"/><path d="M-7.6 -44.6L-7.6 -38M-2.8 -44.6L-2.8 -38M1.4 -40.7L1.4 -33.9" stroke="#1a62b2" stroke-width="2" fill="none" stroke-linecap="butt"/><path d="M-5.1 -43L-5.1 -36.1M4 -44.6L4 -38" stroke="#1a62b2" stroke-width="1.25" fill="none" stroke-linecap="butt"/></g>
<text class="t" x="1181.1" y="156.7">7°</text>
<g transform="translate(1231.5 201.5)"><path d="M-1.21 -56.87 L-2.08 -57.74M3.47 -58.81 L3.47 -60.04M8.15 -56.87 L9.02 -57.74M10.09 -52.19 L11.32 -52.19" stroke="#fdb713" stroke-width="1.7" stroke-linecap="round" fill="none"/><path d="M0.59 -53.86 A3.33 3.33 0 0 1 6.69 -51.33" stroke="#fdb713" stroke-width="1.8" fill="none" stroke-linecap="round"/><path d="M-6.79 -49.75 A4.77 4.77 0 1 1 2.68 -48.24 A2.79 2.79 0 1 1 6.12 -44.69" stroke="#0054a6" stroke-width="1.8" fill="none" stroke-linecap="round" stroke-linejoin="round"/><path d="M-10.79 -43.18 A2.43 2.43 0 1 1 -7.78 -46.98 A4.23 4.23 0 1 1 -0.58 -42.66" stroke="#0054a6" stroke-width="1.8" fill="none" stroke-linecap="round" stroke-linejoin="round"/><path d="M-7.6 -44.6L-7.6 -38M-2.8 -44.6L-2.8 -38M1.4 -40.7L1.4 -33.9" stroke="#1a62b2" stroke-width="2" fill="none" stroke-linecap="butt"/><path d="M-5.1 -43L-5.1 -36.1M4 -44.6L4 -38" stroke="#1a62b2" stroke-width="1.25" fill="none" stroke-linecap="butt"/></g>
<text class="t" x="1232.1" y="184.7">5°</text>
<use href="#ar" transform="translate(58.7 369.8) rotate(45)" fill="#8a97a6"/>
<text class="w" style="font-size:11.5px" x="58.5" y="393.1">SW</text><text class="w" x="58.5" y="411.2">8</text>
<use href="#ar" transform="translate(109.7 369.8) rotate(315)" fill="#8a97a6"/>
<text class="w" style="font-size:11.5px" x="109.5" y="393.1">SE</text><text class="w" x="109.5" y="411.2">10</text>
<use href="#ar" transform="translate(160.7 369.8) rotate(225)" fill="#8a97a6"/>
<text class="w" style="font-size:11.5px" x="160.5" y="393.1">NE</text><text class="w" x="160.5" y="411.2">9</text>
<use href="#ar" transform="translate(211.7 369.8) rotate(180)" fill="#8a97a6"/>
<text class="w" style="font-size:11.5px" x="211.5" y="393.1">N</text><text class="w" x="211.5" y="411.2">4</text>
<use href="#ar" transform="translate(262.7 369.8) rotate(225)" fill="#8a97a6"/>
<text class="w" style="font-size:11.5px" x="262.5" y="393.1">NE</text><text class="w" x="262.5" y="411.2">5</text>
<use href="#ar" transform="translate(313.7 369.8) rotate(225)" fill="#8a97a6"/>
<text class="w" style="font-size:11.5px" x="313.5" y="393.1">NE</text><text class="w" x="313.5" y="411.2">10</text>
<use href="#ar" transform="translate(364.7 369.8) rotate(270)" fill="#8a97a6"/>
<text class="w" style="font-size:11.5px" x="364.5" y="393.1">E</text><text class="w" x="364.5" y="411.2">10</text>
<use href="#ar" transform="translate(415.7 369.8) rotate(315)" fill="#8a97a6"/>
<text class="w" style="font-size:11.5px" x="415.5" y="393.1">SE</text><text class="w" x="415.5" y="411.2">8</text>
<use href="#ar" transform="translate(466.7 369.8) rotate(315)" fill="#8a97a6"/>
<text class="w" style="font-size:11.5px" x="466.5" y="393.1">SE</text><text class="w" x="466.5" y="411.2">6</text>
<use href="#ar" transform="translate(517.7 369.8) rotate(315)" fill="#8a97a6"/>
<text class="w" style="font-size:11.5px" x="517.5" y="393.1">SE</text><text class="w" x="517.5" y="411.2">8</text>
<use href="#ar" transform="translate(568.7 369.8) rotate(315)" fill="#8a97a6"/>
<text class="w" style="font-size:11.5px" x="568.5" y="393.1">SE</text><text class="w" x="568.5" y="411.2">11</text>
<use href="#ar" transform="translate(619.7 369.8) rotate(315)" fill="#8a97a6"/>
<text class="w" style="font-size:11.5px" x="619.5" y="393.1">SE</text><text class="w" x="619.5" y="411.2">11</text>
<use href="#ar" transform="translate(670.7 369.8) rotate(337.5)" fill="#8a97a6"/>
<text class="w" style="font-size:11.5px" x="670.5" y="393.1">SSE</text><text class="w" x="670.5" y="411.2">3</text>
<use href="#ar" transform="translate(721.7 369.8) rotate(22.5)" fill="#8a97a6"/>
<text class="w" style="font-size:11.5px" x="721.5" y="393.1">SSW</text><text class="w" x="721.5" y="411.2">6</text>
<use href="#ar" transform="translate(772.7 369.8) rotate(337.5)" fill="#8a97a6"/>
<text class="w" style="font-size:11.5px" x="772.5" y="393.1">SSE</text><text class="w" x="772.5" y="411.2">6</text>
<use href="#ar" transform="translate(823.7 369.8) rotate(22.5)" fill="#8a97a6"/>
<text class="w" style="font-size:11.5px" x="823.5" y="393.1">SSW</text><text class="w" x="823.5" y="411.2">7</text>
<use href="#ar" transform="translate(874.7 369.8) rotate(67.5)" fill="#8a97a6"/>
<text class="w" style="font-size:11.5px" x="874.5" y="393.1">WSW</text><text class="w" x="874.5" y="411.2">6</text>
<use href="#ar" transform="translate(925.7 369.8) rotate(45)" fill="#8a97a6"/>
<text class="w" style="font-size:11.5px" x="925.5" y="393.1">SW</text><text class="w" x="925.5" y="411.2">5</text>
<use href="#ar" transform="translate(976.7 369.8) rotate(22.5)" fill="#8a97a6"/>
<text class="w" style="font-size:11.5px" x="976.5" y="393.1">SSW</text><text class="w" x="976.5" y="411.2">5</text>
<use href="#ar" transform="translate(1027.7 369.8) rotate(67.5)" fill="#8a97a6"/>
<text class="w" style="font-size:11.5px" x="1027.5" y="393.1">WSW</text><text class="w" x="1027.5" y="411.2">6</text>
<use href="#ar" transform="translate(1078.7 369.8) rotate(22.5)" fill="#8a97a6"/>
<text class="w" style="font-size:11.5px" x="1078.5" y="393.1">SSW</text><text class="w" x="1078.5" y="411.2">6</text>
<use href="#ar" transform="translate(1129.7 369.8) rotate(22.5)" fill="#8a97a6"/>
<text class="w" style="font-size:11.5px" x="1129.5" y="393.1">SSW</text><text class="w" x="1129.5" y="411.2">10</text>
<use href="#ar" transform="translate(1180.7 369.8) rotate(22.5)" fill="#8a97a6"/>
<text class="w" style="font-size:11.5px" x="1180.5" y="393.1">SSW</text><text class="w" x="1180.5" y="411.2">10</text>
<use href="#ar" transform="translate(1231.7 369.8) rotate(22.5)" fill="#8a97a6"/>
<text class="w" style="font-size:11.5px" x="1231.5" y="393.1">SSW</text><text class="w" x="1231.5" y="411.2">10</text>
<g clip-path="url(#cp)"><circle cx="33.3" cy="211" r="30" fill="#00529c" fill-opacity="0.7"/><path d="M47.2 204.8L39.6 211.1L47.2 217.4" stroke="#fff" stroke-width="2.3" fill="none"/><circle cx="1258" cy="211" r="30" fill="#828282" fill-opacity="0.7"/><path d="M1243.2 204.6L1250.8 211.1L1243.2 217.6" stroke="#fff" stroke-width="2.3" fill="none"/></g>
<path d="M34 436.5H51" stroke="#06a5e0" stroke-width="2"/>
<text class="l" x="60.6" y="439.7" textLength="103.7" lengthAdjust="spacingAndGlyphs">Temp. maksymalna</text>
<path d="M188.3 436.5H209" stroke="#00529c" stroke-width="2" stroke-dasharray="5.2 2.4"/>
<text class="l" x="220.9" y="439.7" textLength="91.3" lengthAdjust="spacingAndGlyphs">Temp. minimalna</text>
<text class="l" x="336.2" y="439.7" textLength="72.1" lengthAdjust="spacingAndGlyphs">Opady w mm:</text>
<use href="#drop" transform="translate(435.6 435.9) scale(1.22)" fill="#00529c"/>
<text class="l" x="445.8" y="439.7" textLength="37" lengthAdjust="spacingAndGlyphs">deszcz</text>
<use href="#flake" transform="translate(511.4 435.4) scale(1.08)" stroke="#009ba5"/>
<text class="l" x="524.7" y="439.7" textLength="28" lengthAdjust="spacingAndGlyphs">śnieg</text>
<use href="#flake" transform="translate(580.4 432.8) scale(0.9)" stroke="#0a7fa8"/>
<use href="#drop" transform="translate(587 437.9) scale(1.0)" fill="#0a6fb0"/>
<text class="l" x="597.1" y="439.7" textLength="103.4" lengthAdjust="spacingAndGlyphs">deszcz ze śniegiem</text>
</svg></body></html>
